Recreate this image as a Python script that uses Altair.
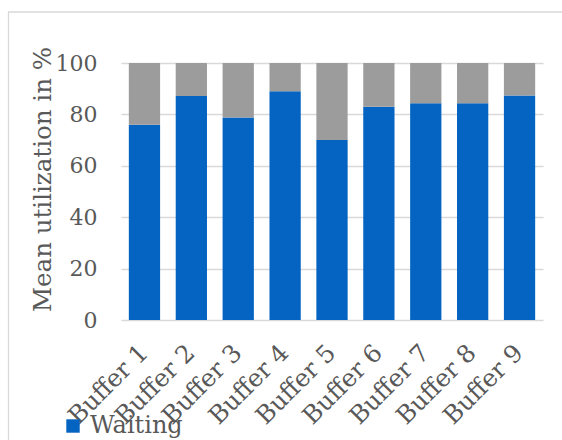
import altair as alt
import pandas as pd

buffers = ["Buffer 1", "Buffer 2", "Buffer 3", "Buffer 4", "Buffer 5",
           "Buffer 6", "Buffer 7", "Buffer 8", "Buffer 9"]
waiting = [76.0, 87.2, 78.8, 89.0, 70.0, 83.0, 84.3, 84.3, 87.4]
other = [24.0, 12.8, 21.2, 11.0, 30.0, 17.0, 15.7, 15.7, 12.6]
series_names = ["Waiting", "Other"]
colors = ["#0563C1", "#9C9C9C"]
y_ticks = [0, 20, 40, 60, 80, 100]

rows = []
for b, w, o in zip(buffers, waiting, other):
    rows.append({"buffer": b, "series": series_names[0], "value": w, "ord": 0})
    rows.append({"buffer": b, "series": series_names[1], "value": o, "ord": 1})
df = pd.DataFrame(rows)

FONT = "DejaVu Serif"
TXT = "#595959"
GRID = "#D9D9D9"

bars = alt.Chart(df).mark_bar().encode(
    x=alt.X("buffer:N", sort=buffers,
            scale=alt.Scale(paddingInner=0.333, paddingOuter=0.167),
            axis=alt.Axis(title=None, labelAngle=-45, labelAlign="right",
                          labelBaseline="middle", labelPadding=29,
                          labelFontSize=24.5, labelFont=FONT, labelColor=TXT,
                          ticks=False, domain=False, grid=False)),
    y=alt.Y("value:Q", stack="zero", scale=alt.Scale(domain=[0, 100]),
            axis=alt.Axis(values=y_ticks, title="Mean utilization in %",
                          titleFont=FONT, titleFontSize=24.5, titleFontWeight="normal",
                          titleColor=TXT, titleAngle=-90, titleAlign="center",
                          titleBaseline="alphabetic", titleX=-71, titleY=116,
                          labelFont=FONT, labelFontSize=22, labelColor=TXT,
                          labelPadding=24, ticks=False, domain=False,
                          grid=True, gridColor=GRID, gridWidth=1.3)),
    color=alt.Color("series:N",
                    scale=alt.Scale(domain=series_names, range=colors),
                    legend=alt.Legend(values=["Waiting"], orient="none",
                                      legendX=-60, legendY=351, title=None,
                                      symbolType="square", symbolSize=180,
                                      symbolStrokeWidth=0, symbolOpacity=1,
                                      labelFont=FONT, labelFontSize=24,
                                      labelColor=TXT, labelOffset=5, padding=0)),
    order=alt.Order("ord:Q"),
)

frame = alt.Chart(pd.DataFrame({"a": [0]})).mark_rect(
    fill=None, stroke=GRID, strokeWidth=1.3
).encode(
    x=alt.value(-112.5), y=alt.value(-51), x2=alt.value(470), y2=alt.value(400)
)

chart = alt.layer(frame, bars).properties(
    width=422, height=257,
    autosize=alt.AutoSizeParams(type="none"),
    padding={"left": 121, "top": 63, "right": 19, "bottom": 120},
    background="white",
).configure_view(stroke=None)

chart.save("out.html", embed_options={"renderer": "svg", "actions": False})
